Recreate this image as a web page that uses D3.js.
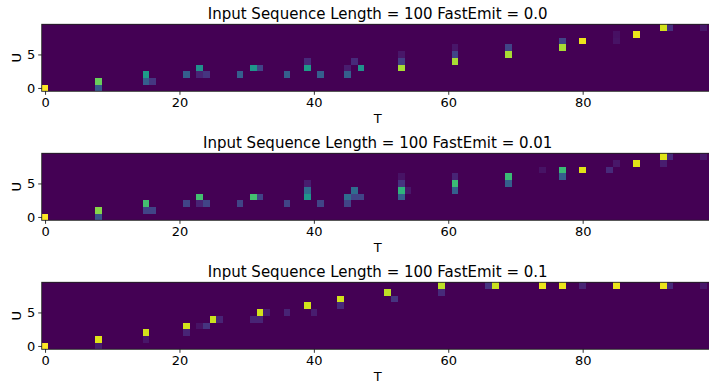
<!DOCTYPE html>
<html>
<head>
<meta charset="utf-8">
<script src="https://cdn.jsdelivr.net/npm/d3@7"></script>
<style>
  body { margin: 0; background: #fff; }
  svg { display: block; font-family: "DejaVu Sans", sans-serif; }
</style>
</head>
<body>
<div id="chart"></div>
<script>
// grid size: T steps x U steps
const nT = 100;
const nU = 10;
const xTicks = [0, 20, 40, 60, 80];
const yTicks = [0, 5];

// non-zero cells as [t, u, value], everything else is 0
const cellsFE00 = [
  [0, 0, 1.0],
  [8, 0, 0.27], [8, 1, 0.77],
  [15, 1, 0.3], [15, 2, 0.55], [16, 1, 0.16],
  [21, 2, 0.3],
  [23, 2, 0.1], [23, 3, 0.5], [24, 2, 0.15],
  [29, 2, 0.3],
  [31, 3, 0.52], [32, 3, 0.2],
  [36, 2, 0.3],
  [39, 3, 0.55], [39, 4, 0.12],
  [41, 2, 0.3],
  [45, 2, 0.3], [45, 3, 0.08], [46, 4, 0.12], [47, 3, 0.5],
  [53, 3, 0.87], [53, 4, 0.18], [53, 5, 0.06],
  [61, 4, 0.87], [61, 5, 0.2], [61, 6, 0.06],
  [69, 5, 0.87], [69, 6, 0.2],
  [77, 6, 0.87], [77, 7, 0.2],
  [80, 7, 0.97],
  [85, 7, 0.05], [85, 8, 0.04],
  [88, 8, 0.97],
  [92, 9, 0.93], [93, 9, 0.14],
  [98, 9, 0.06]
];

const cellsFE001 = [
  [0, 0, 1.0],
  [8, 0, 0.25], [8, 1, 0.82],
  [15, 1, 0.2], [15, 2, 0.7], [16, 1, 0.2],
  [21, 2, 0.2],
  [23, 2, 0.1], [23, 3, 0.7], [24, 2, 0.2],
  [29, 2, 0.2],
  [31, 3, 0.7], [32, 3, 0.2],
  [36, 2, 0.2],
  [39, 3, 0.52], [39, 4, 0.35], [39, 5, 0.08],
  [41, 2, 0.2],
  [45, 2, 0.2], [45, 3, 0.35], [46, 3, 0.2], [46, 4, 0.35], [47, 3, 0.2],
  [53, 3, 0.3], [53, 4, 0.65], [53, 5, 0.15], [53, 6, 0.05], [54, 4, 0.06],
  [61, 4, 0.3], [61, 5, 0.68], [61, 6, 0.1],
  [69, 5, 0.3], [69, 6, 0.68],
  [74, 7, 0.05], [77, 6, 0.3], [77, 7, 0.68],
  [80, 7, 0.95],
  [84, 7, 0.12], [85, 8, 0.06],
  [88, 8, 0.95],
  [92, 8, 0.08], [92, 9, 0.95], [93, 9, 0.12],
  [98, 9, 0.06]
];

const cellsFE01 = [
  [0, 0, 1.0],
  [8, 0, 0.08], [8, 1, 0.95],
  [15, 1, 0.06], [15, 2, 0.93],
  [21, 2, 0.1], [21, 3, 0.93],
  [23, 3, 0.05], [24, 3, 0.15],
  [25, 4, 0.92], [26, 4, 0.1],
  [31, 4, 0.1], [32, 4, 0.1], [32, 5, 0.93], [33, 5, 0.08],
  [36, 5, 0.1],
  [39, 6, 0.93], [40, 5, 0.08],
  [44, 6, 0.12], [44, 7, 0.93],
  [51, 8, 0.9], [52, 7, 0.15],
  [59, 8, 0.12], [59, 9, 0.9],
  [66, 9, 0.15], [67, 9, 0.92],
  [74, 9, 0.97],
  [77, 9, 0.97],
  [80, 9, 0.1],
  [85, 9, 0.97],
  [92, 9, 0.97], [93, 9, 0.12],
  [98, 9, 0.06]
];

const panels = [
  { title: "Input Sequence Length = 100 FastEmit = 0.0", cells: cellsFE00 },
  { title: "Input Sequence Length = 100 FastEmit = 0.01", cells: cellsFE001 },
  { title: "Input Sequence Length = 100 FastEmit = 0.1", cells: cellsFE01 }
];

const width = 709, height = 383;
const left = 41.7;
const cellW = 6.72, cellH = 6.7;
const panelTops = [24.3, 153.3, 282.3];
const plotH = nU * cellH;

const svg = d3.select("#chart").append("svg")
  .attr("width", width)
  .attr("height", height);

const x = d3.scaleLinear()
  .domain([-0.5, nT - 0.5])
  .range([left, left + nT * cellW]);

panels.forEach((p, i) => {
  const top = panelTops[i];
  const y = d3.scaleLinear()
    .domain([-0.5, nU - 0.5])
    .range([top + plotH, top]);

  // dense grid from the sparse cells
  const grid = [];
  for (let t = 0; t < nT; t++) {
    for (let u = 0; u < nU; u++) grid.push({ t, u, v: 0 });
  }
  p.cells.forEach(([t, u, v]) => { grid[t * nU + u].v = v; });

  const color = d3.scaleSequential(d3.interpolateViridis)
    .domain([0, d3.max(grid, d => d.v)]);

  const g = svg.append("g");

  g.selectAll("rect.cell")
    .data(grid)
    .enter()
    .append("rect")
    .attr("class", "cell")
    .attr("x", d => x(d.t - 0.5))
    .attr("y", d => y(d.u + 0.5))
    .attr("width", d => x(d.t + 0.5) - x(d.t - 0.5))
    .attr("height", d => y(d.u - 0.5) - y(d.u + 0.5))
    .attr("fill", d => color(d.v))
    .attr("shape-rendering", "crispEdges");

  // spines
  g.append("rect")
    .attr("x", x(-0.5))
    .attr("y", top)
    .attr("width", x(nT - 0.5) - x(-0.5))
    .attr("height", plotH)
    .attr("fill", "none")
    .attr("stroke", "#222")
    .attr("stroke-width", 0.9);

  const xAxis = g.append("g")
    .attr("transform", `translate(0,${top + plotH})`)
    .call(d3.axisBottom(x).tickValues(xTicks).tickSize(3.5).tickPadding(3));
  xAxis.select(".domain").remove();

  const yAxis = g.append("g")
    .attr("transform", `translate(${left},0)`)
    .call(d3.axisLeft(y).tickValues(yTicks).tickSize(3.5).tickPadding(3));
  yAxis.select(".domain").remove();

  g.selectAll(".tick text")
    .attr("font-family", "DejaVu Sans, sans-serif")
    .attr("font-size", 13)
    .attr("fill", "#000");
  g.selectAll(".tick line").attr("stroke", "#000").attr("stroke-width", 0.8);

  g.append("text")
    .attr("x", (x(-0.5) + x(nT - 0.5)) / 2)
    .attr("y", top - 5)
    .attr("text-anchor", "middle")
    .attr("font-size", 15)
    .text(p.title);

  g.append("text")
    .attr("x", (x(-0.5) + x(nT - 0.5)) / 2)
    .attr("y", top + plotH + 32)
    .attr("text-anchor", "middle")
    .attr("font-size", 13)
    .text("T");

  g.append("text")
    .attr("transform", `translate(${21},${top + plotH / 2}) rotate(-90)`)
    .attr("text-anchor", "middle")
    .attr("font-size", 13)
    .text("U");
});
</script>
</body>
</html>
